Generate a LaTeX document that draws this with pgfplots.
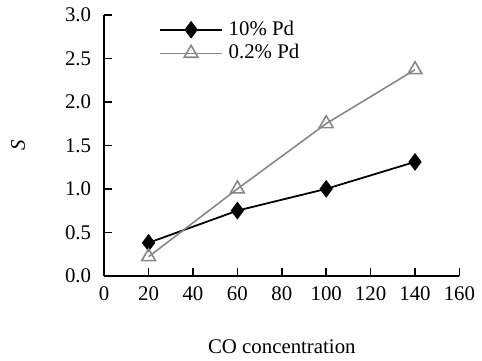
\documentclass[border=0pt]{standalone}
\usepackage{pgfplots}
\pgfplotsset{compat=1.18}
\usepackage{fontspec}
\setmainfont{Liberation Serif}
\definecolor{grayline}{RGB}{135,135,135}
\begin{document}
\fontsize{21bp}{24bp}\selectfont
\begin{tikzpicture}
\begin{axis}[
  scale only axis,
  width=358bp, height=263bp,
  xmin=0, xmax=160, ymin=0, ymax=3,
  xtick={0,20,...,160}, ytick={0,0.5,...,3},
  axis x line*=bottom, axis y line*=left,
  axis line style={line width=1.6pt},
  tick align=inside,
  major tick length=8bp,
  tick style={line width=1.5pt, black},
  /pgf/number format/assume math mode=true,
  tick label style={font=\fontsize{21bp}{24bp}\selectfont},
  yticklabel style={/pgf/number format/fixed, /pgf/number format/fixed zerofill, /pgf/number format/precision=1, xshift=-6bp},
  xticklabel style={yshift=-4bp},
  xlabel={CO concentration},
  ylabel={\textit{S}},
  label style={font=\fontsize{21bp}{24bp}\selectfont},
  xlabel style={yshift=-25bp},
  ylabel style={yshift=26bp},
  clip=false,
  legend style={draw=none, fill=none, at={(0.155,0.985)}, anchor=north west, row sep=2bp, font=\fontsize{21bp}{24bp}\selectfont, inner sep=0pt},
  legend cell align=left,
  legend image code/.code={\draw[mark repeat=2, mark phase=2, #1] plot coordinates {(0bp,0bp) (31bp,0bp) (62bp,0bp)}; \path (66bp,0bp);},
]
\addplot[black, line width=1.8pt, mark=diamond*, mark size=7.5bp, mark options={solid, fill=black}] coordinates {(20,0.38) (60,0.75) (100,1.0) (140,1.31)};
\addlegendentry{10\% Pd}
\addplot[grayline, line width=1.6pt, mark=triangle, mark size=8bp, mark options={solid, line width=1.6pt}] coordinates {(20,0.22) (60,1.0) (100,1.75) (140,2.37)};
\addlegendentry{0.2\% Pd}
\path (rel axis cs:0,0) ++(-105bp,-78bp) rectangle ++(482bp,356bp);
\end{axis}
\end{tikzpicture}
\end{document}
